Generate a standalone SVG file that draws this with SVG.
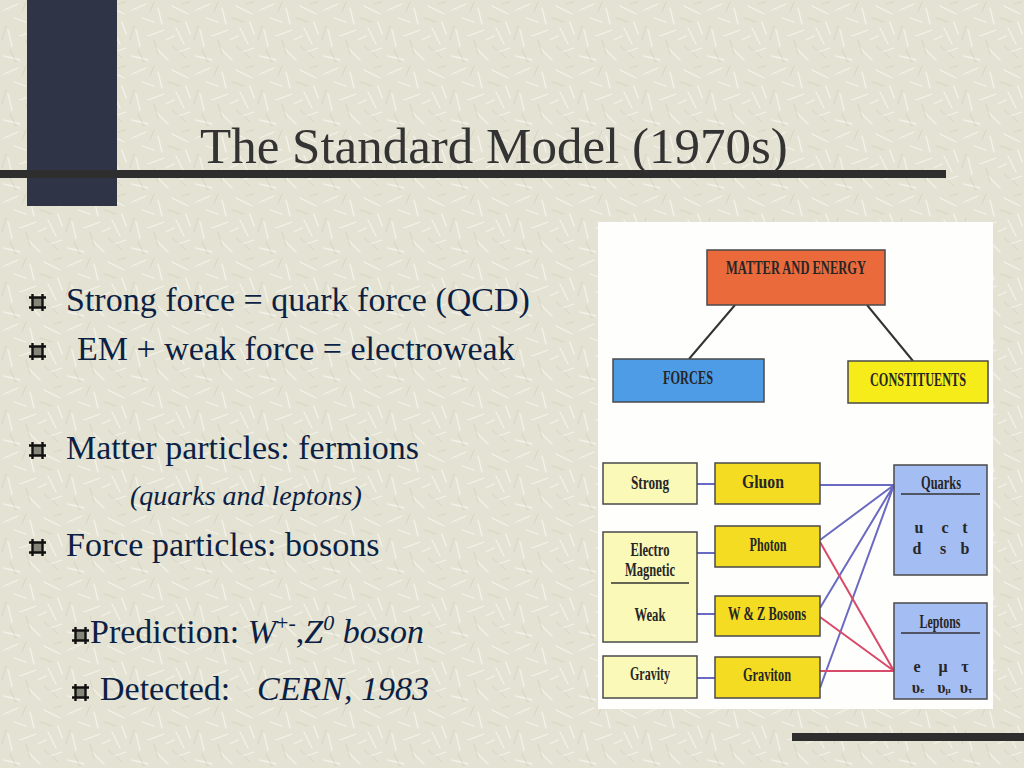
<svg xmlns="http://www.w3.org/2000/svg" width="1024" height="768" viewBox="0 0 1024 768">
<defs>
<pattern id="tex" width="64" height="64" patternUnits="userSpaceOnUse">
<rect width="64" height="64" fill="#e4e2d2"/>
<g stroke="#f6f5ee" stroke-width="1.3" stroke-linecap="round" opacity="0.85">
<path d="M4 10 L18 4 M30 8 L34 24 M44 6 L60 14 M8 30 L12 46 M20 36 L36 30 M48 28 L56 44 M4 56 L20 60 M28 48 L40 60 M50 52 L62 48 M14 18 L26 22 M38 40 L46 36 M58 22 L62 34"/>
</g>
<g stroke="#d0ceBD" stroke-width="1" stroke-linecap="round" opacity="0.7">
<path d="M22 12 L26 2 M40 18 L52 22 M2 40 L6 26 M26 40 L30 54 M44 46 L58 58 M10 50 L16 62 M54 4 L62 2"/>
</g>
</pattern>
<symbol id="bul" viewBox="0 0 17 17">
<rect x="3.5" y="3.5" width="10" height="10" fill="#85857a"/>
<path d="M3.5 0 V17 M13.5 0 V17 M0 3.5 H17 M0 13.5 H17" stroke="#111" stroke-width="2.4" fill="none"/>
</symbol>
<style>
.txt{font-family:"Liberation Serif","Times New Roman",serif;fill:#0c1f44;font-size:34px}
.it{font-style:italic}
.title{font-family:"Liberation Serif","Times New Roman",serif;fill:#333;font-size:51px}
.box{stroke:#4a4a4a;stroke-width:1.5}
.lbl{font-family:"Liberation Serif","Times New Roman",serif;font-weight:bold;font-size:18px;fill:#262626;text-anchor:middle}
.sm{font-size:16px}
.blue{stroke:#6a6ac2;stroke-width:2;fill:none}
.red{stroke:#d8496a;stroke-width:2;fill:none}
.blk{stroke:#333;stroke-width:2;fill:none}
</style>
</defs>

<rect width="1024" height="768" fill="url(#tex)"/>

<!-- slide decorations -->
<rect x="27" y="0" width="90" height="206" fill="#2f3447"/>
<rect x="0" y="170" width="946" height="8" fill="#2e2e2e"/>
<rect x="792" y="733" width="232" height="8" fill="#2e2e2e"/>

<text class="title" x="200" y="163">The Standard Model (1970s)</text>

<!-- bullet text -->
<use href="#bul" x="29" y="294" width="17" height="17"/>
<text class="txt" x="66" y="311">Strong force = quark force (QCD)</text>
<use href="#bul" x="29" y="343" width="17" height="17"/>
<text class="txt" x="77" y="360">EM + weak force = electroweak</text>
<use href="#bul" x="29" y="442" width="17" height="17"/>
<text class="txt" x="66" y="459">Matter particles: fermions</text>
<text class="txt it" x="130" y="505" style="font-size:28px">(quarks and leptons)</text>
<use href="#bul" x="29" y="539" width="17" height="17"/>
<text class="txt" x="66" y="556">Force particles: bosons</text>
<use href="#bul" x="72" y="627" width="17" height="17"/>
<text class="txt" x="90" y="643">Prediction: <tspan class="it">W</tspan><tspan style="font-size:22px" dy="-13">+-</tspan><tspan dy="13">,</tspan><tspan class="it">Z</tspan><tspan class="it" style="font-size:22px" dy="-13">0</tspan><tspan class="it" dy="13"> boson</tspan></text>
<use href="#bul" x="72" y="684" width="17" height="17"/>
<text class="txt" x="100" y="700">Detected:   <tspan class="it" x="257">CERN, 1983</tspan></text>

<!-- diagram panel -->
<rect x="598" y="222" width="395" height="487" fill="#fefefc"/>

<g id="connectors">
<path class="blk" d="M735 305 L689 359 M867 305 L913 361"/>
<path class="blue" d="M697 484 H715 M697 553 H715 M697 614 H715 M697 678 H715"/>
<path class="blue" d="M820 485 L894 485 M820 540 L894 485 M820 608 L894 485 M820 688 L894 485"/>
<path class="red" d="M820 542 L894 671 M820 617 L894 671 M820 671 L894 671"/>
</g>

<g id="matter-energy">
<rect class="box" x="707" y="250" width="178" height="55" fill="#ea6a3c"/>
<text class="lbl" x="796" y="274" textLength="140" lengthAdjust="spacingAndGlyphs">MATTER AND ENERGY</text>
</g>
<g id="forces">
<rect class="box" x="613" y="359" width="151" height="43" fill="#4e9ce6"/>
<text class="lbl" x="688" y="384" textLength="50" lengthAdjust="spacingAndGlyphs">FORCES</text>
</g>
<g id="constituents">
<rect class="box" x="848" y="361" width="140" height="42" fill="#f6ec1a"/>
<text class="lbl" x="918" y="386" textLength="96" lengthAdjust="spacingAndGlyphs">CONSTITUENTS</text>
</g>

<g id="strong">
<rect class="box" x="603" y="463" width="94" height="41" fill="#fbf9b8"/>
<text class="lbl" x="650" y="489" textLength="38" lengthAdjust="spacingAndGlyphs">Strong</text>
</g>
<g id="electroweak">
<rect class="box" x="603" y="532" width="94" height="110" fill="#fbf9b8"/>
<text class="lbl" x="650" y="556" textLength="39" lengthAdjust="spacingAndGlyphs">Electro</text>
<text class="lbl" x="650" y="576" textLength="50" lengthAdjust="spacingAndGlyphs">Magnetic</text>
<line x1="611" y1="583" x2="689" y2="583" stroke="#333" stroke-width="1.3"/>
<text class="lbl" x="650" y="621" textLength="31" lengthAdjust="spacingAndGlyphs">Weak</text>
</g>
<g id="gravity">
<rect class="box" x="603" y="656" width="94" height="42" fill="#fbf9b8"/>
<text class="lbl" x="650" y="680" textLength="40" lengthAdjust="spacingAndGlyphs">Gravity</text>
</g>

<g id="gluon">
<rect class="box" x="715" y="463" width="105" height="41" fill="#f4dc22"/>
<text class="lbl" x="763" y="488" textLength="42" lengthAdjust="spacingAndGlyphs">Gluon</text>
</g>
<g id="photon">
<rect class="box" x="715" y="526" width="105" height="41" fill="#f4dc22"/>
<text class="lbl" x="768" y="551" textLength="37" lengthAdjust="spacingAndGlyphs">Photon</text>
</g>
<g id="wz-bosons">
<rect class="box" x="715" y="596" width="105" height="40" fill="#f4dc22"/>
<text class="lbl" x="767" y="620" textLength="78" lengthAdjust="spacingAndGlyphs">W &amp; Z Bosons</text>
</g>
<g id="graviton">
<rect class="box" x="715" y="657" width="105" height="41" fill="#f4dc22"/>
<text class="lbl" x="767" y="681" textLength="48" lengthAdjust="spacingAndGlyphs">Graviton</text>
</g>

<g id="quarks">
<rect class="box" x="894" y="465" width="93" height="110" fill="#a4bdf2"/>
<text class="lbl" x="941" y="489" textLength="40" lengthAdjust="spacingAndGlyphs">Quarks</text>
<line x1="901" y1="494" x2="980" y2="494" stroke="#333" stroke-width="1.3"/>
<text class="lbl sm" x="919" y="533">u</text>
<text class="lbl sm" x="945" y="533">c</text>
<text class="lbl sm" x="965" y="533">t</text>
<text class="lbl sm" x="917" y="554">d</text>
<text class="lbl sm" x="943" y="554">s</text>
<text class="lbl sm" x="965" y="554">b</text>
</g>
<g id="leptons">
<rect class="box" x="894" y="603" width="93" height="96" fill="#a4bdf2"/>
<text class="lbl" x="940" y="628" textLength="41" lengthAdjust="spacingAndGlyphs">Leptons</text>
<line x1="901" y1="633" x2="980" y2="633" stroke="#333" stroke-width="1.3"/>
<text class="lbl sm" x="917" y="672">e</text>
<text class="lbl sm" x="943" y="672">μ</text>
<text class="lbl sm" x="965" y="672">τ</text>
<text class="lbl sm" x="918" y="693">υ<tspan style="font-size:9px">e</tspan></text>
<text class="lbl sm" x="944" y="693">υ<tspan style="font-size:9px">μ</tspan></text>
<text class="lbl sm" x="966" y="693">υ<tspan style="font-size:9px">τ</tspan></text>
</g>
</svg>
